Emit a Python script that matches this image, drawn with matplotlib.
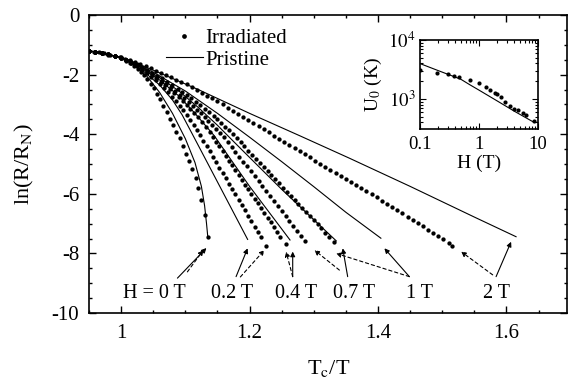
import numpy as np
import matplotlib
matplotlib.use("Agg")
import matplotlib.pyplot as plt
from matplotlib.ticker import MultipleLocator, LogLocator, NullFormatter, FixedLocator

plt.rcParams['font.family'] = ['Liberation Serif', 'DejaVu Serif']
plt.rcParams['mathtext.fontset'] = 'stix'
plt.rcParams['axes.unicode_minus'] = False

# irradiated data (dots): Tc/T and ln(R/RN)
x_irr_2 = [0.950, 0.958, 0.966, 0.974, 0.982, 0.990, 0.998, 1.006, 1.014, 1.022, 1.030, 1.038,
           1.046, 1.054, 1.062, 1.070, 1.078, 1.086, 1.094, 1.102, 1.110, 1.118, 1.126, 1.134,
           1.142, 1.150, 1.158, 1.166, 1.174, 1.182, 1.190, 1.198, 1.206, 1.214, 1.222, 1.230,
           1.238, 1.246, 1.254, 1.262, 1.270, 1.278, 1.286, 1.294, 1.302, 1.310, 1.318, 1.326,
           1.334, 1.342, 1.350, 1.358, 1.366, 1.374, 1.382, 1.390, 1.398, 1.406, 1.414, 1.422,
           1.430, 1.438, 1.446, 1.454, 1.462, 1.470, 1.478, 1.486, 1.494, 1.502, 1.510, 1.516]
y_irr_2 = [-1.20, -1.23, -1.255, -1.29, -1.33, -1.37, -1.41, -1.46, -1.52, -1.58, -1.65, -1.72,
           -1.79, -1.87, -1.94, -2.02, -2.09, -2.17, -2.24, -2.33, -2.42, -2.52, -2.61, -2.71,
           -2.80, -2.90, -3.00, -3.11, -3.21, -3.32, -3.42, -3.53, -3.63, -3.73, -3.84, -3.94,
           -4.05, -4.15, -4.25, -4.36, -4.46, -4.57, -4.67, -4.78, -4.89, -4.99, -5.09, -5.19,
           -5.30, -5.40, -5.50, -5.61, -5.71, -5.81, -5.92, -6.02, -6.12, -6.23, -6.34, -6.44,
           -6.55, -6.66, -6.77, -6.87, -6.98, -7.09, -7.20, -7.31, -7.42, -7.53, -7.64, -7.74]

x_irr_1 = [0.950, 0.960, 0.970, 0.980, 0.990, 1.000, 1.008, 1.016, 1.024, 1.032, 1.040, 1.048,
           1.056, 1.064, 1.072, 1.080, 1.088, 1.095, 1.102, 1.109, 1.116, 1.123, 1.130, 1.137,
           1.144, 1.150, 1.156, 1.162, 1.168, 1.174, 1.180, 1.186, 1.192, 1.198, 1.204, 1.210,
           1.216, 1.222, 1.228, 1.234, 1.240, 1.246, 1.252, 1.258, 1.264, 1.270, 1.276, 1.282,
           1.288, 1.294, 1.300, 1.306, 1.312, 1.318, 1.324, 1.332]
y_irr_1 = [-1.20, -1.235, -1.27, -1.32, -1.37, -1.42, -1.50, -1.58, -1.66, -1.74, -1.84, -1.93,
           -2.03, -2.13, -2.24, -2.36, -2.47, -2.58, -2.69, -2.80, -2.91, -3.03, -3.15, -3.27,
           -3.39, -3.50, -3.62, -3.75, -3.87, -4.00, -4.14, -4.27, -4.41, -4.55, -4.69, -4.83,
           -4.96, -5.10, -5.24, -5.37, -5.51, -5.65, -5.79, -5.93, -6.07, -6.20, -6.34, -6.48,
           -6.62, -6.75, -6.89, -7.03, -7.16, -7.30, -7.44, -7.62]

x_irr_07 = [0.950, 0.960, 0.970, 0.980, 0.990, 1.000, 1.008, 1.016, 1.024, 1.032, 1.040, 1.048,
            1.056, 1.063, 1.070, 1.077, 1.084, 1.091, 1.098, 1.105, 1.112, 1.118, 1.124, 1.130,
            1.136, 1.142, 1.148, 1.154, 1.160, 1.166, 1.172, 1.178, 1.184, 1.190, 1.196, 1.202,
            1.208, 1.214, 1.220, 1.226, 1.232, 1.238, 1.244, 1.250, 1.256, 1.262, 1.268, 1.274,
            1.280, 1.286]
y_irr_07 = [-1.20, -1.235, -1.275, -1.32, -1.37, -1.43, -1.51, -1.59, -1.68, -1.77, -1.87, -1.98,
            -2.09, -2.20, -2.31, -2.42, -2.54, -2.67, -2.80, -2.93, -3.06, -3.18, -3.30, -3.43,
            -3.56, -3.70, -3.83, -3.96, -4.10, -4.26, -4.42, -4.59, -4.75, -4.92, -5.08, -5.25,
            -5.41, -5.58, -5.74, -5.90, -6.06, -6.23, -6.40, -6.57, -6.74, -6.90, -7.07, -7.24,
            -7.41, -7.57]

x_irr_04 = [0.950, 0.960, 0.970, 0.980, 0.990, 1.000, 1.008, 1.016, 1.024, 1.032, 1.040, 1.048,
            1.055, 1.062, 1.069, 1.076, 1.083, 1.090, 1.096, 1.102, 1.108, 1.114, 1.120, 1.126,
            1.132, 1.138, 1.143, 1.148, 1.153, 1.158, 1.163, 1.168, 1.173, 1.178, 1.183, 1.188,
            1.193, 1.198, 1.203, 1.208, 1.213, 1.218, 1.223, 1.228, 1.233, 1.238, 1.243, 1.248,
            1.256]
y_irr_04 = [-1.20, -1.235, -1.275, -1.32, -1.375, -1.43, -1.51, -1.60, -1.69, -1.79, -1.90, -2.02,
            -2.13, -2.24, -2.36, -2.49, -2.62, -2.75, -2.88, -3.01, -3.14, -3.28, -3.43, -3.59,
            -3.76, -3.93, -4.09, -4.25, -4.41, -4.57, -4.73, -4.89, -5.05, -5.21, -5.37, -5.53,
            -5.69, -5.85, -6.01, -6.17, -6.32, -6.48, -6.64, -6.80, -6.96, -7.12, -7.28, -7.44,
            -7.68]

x_irr_02 = [0.950, 0.960, 0.970, 0.980, 0.990, 1.000, 1.008, 1.016, 1.024, 1.032, 1.040, 1.047,
            1.054, 1.061, 1.067, 1.073, 1.079, 1.085, 1.091, 1.097, 1.103, 1.108, 1.113, 1.118,
            1.123, 1.128, 1.133, 1.138, 1.143, 1.148, 1.153, 1.158, 1.163, 1.168, 1.173, 1.178,
            1.183, 1.188, 1.193, 1.198, 1.203, 1.208, 1.213, 1.218, 1.226]
y_irr_02 = [-1.20, -1.235, -1.275, -1.32, -1.375, -1.43, -1.52, -1.62, -1.72, -1.83, -1.95, -2.07,
            -2.19, -2.32, -2.45, -2.59, -2.74, -2.89, -3.04, -3.19, -3.35, -3.51, -3.68, -3.86,
            -4.04, -4.22, -4.40, -4.58, -4.76, -4.94, -5.12, -5.30, -5.48, -5.66, -5.84, -6.02,
            -6.20, -6.38, -6.56, -6.74, -6.92, -7.10, -7.28, -7.46, -7.75]

x_irr_0 = [0.950, 0.960, 0.970, 0.980, 0.990, 1.000, 1.007, 1.014, 1.020, 1.026, 1.031, 1.036,
           1.041, 1.046, 1.051, 1.056, 1.061, 1.066, 1.071, 1.076, 1.081, 1.086, 1.091, 1.096,
           1.101, 1.106, 1.111, 1.116, 1.120, 1.1245, 1.130, 1.136]
y_irr_0 = [-1.20, -1.235, -1.28, -1.33, -1.39, -1.45, -1.53, -1.62, -1.71, -1.81, -1.91, -2.02,
           -2.15, -2.30, -2.46, -2.64, -2.83, -3.04, -3.26, -3.48, -3.70, -3.91, -4.14, -4.40,
           -4.65, -4.90, -5.16, -5.47, -5.80, -6.20, -6.71, -7.46]

# pristine data (lines)
x_pr_0 = [0.95, 0.98, 1.00, 1.02, 1.04, 1.06, 1.08, 1.10, 1.115, 1.125, 1.130, 1.133, 1.135]
y_pr_0 = [-1.20, -1.32, -1.44, -1.68, -2.05, -2.60, -3.30, -4.15, -4.95, -5.75, -6.40, -7.00, -7.45]
x_pr_02 = [0.95, 1.00, 1.03, 1.06, 1.08, 1.095, 1.111, 1.15, 1.197]
y_pr_02 = [-1.20, -1.42, -1.80, -2.35, -2.85, -3.35, -4.00, -5.60, -7.53]
x_pr_04 = [0.95, 1.00, 1.03, 1.06, 1.09, 1.115, 1.145, 1.20, 1.263]
y_pr_04 = [-1.20, -1.43, -1.76, -2.18, -2.72, -3.30, -4.05, -5.75, -7.55]
x_pr_07 = [0.95, 1.00, 1.03, 1.06, 1.09, 1.12, 1.15, 1.18, 1.25, 1.335]
y_pr_07 = [-1.20, -1.42, -1.73, -2.10, -2.55, -3.10, -3.70, -4.35, -5.85, -7.58]
x_pr_1 = [0.95, 1.00, 1.05, 1.10, 1.15, 1.20, 1.25, 1.30, 1.35, 1.4045]
y_pr_1 = [-1.20, -1.42, -1.92, -2.55, -3.30, -4.10, -4.92, -5.76, -6.62, -7.49]
x_pr_2 = [0.95, 1.00, 1.05, 1.12, 1.20, 1.278, 1.355, 1.45, 1.55, 1.615]
y_pr_2 = [-1.20, -1.42, -1.85, -2.50, -3.30, -4.05, -4.80, -5.75, -6.78, -7.44]

# field labels and arrows (label text, position, solid arrow, dashed arrow)
field_labels = ['H = 0 T', '0.2 T', '0.4 T', '0.7 T', '1 T', '2 T']
label_x = [1.052, 1.173, 1.273, 1.363, 1.4645, 1.584]
label_y = -9.35
solid_arrows = [((1.0877, -8.83), (1.1328, -7.82)),
                ((1.179, -8.78), (1.197, -7.83)),
                ((1.2672, -8.78), (1.2672, -7.94)),
                ((1.3528, -8.78), (1.3451, -7.83)),
                ((1.4489, -8.78), (1.4100, -7.83)),
                ((1.5839, -8.78), (1.6073, -7.61))]
dashed_arrows = [((1.1032, -8.62), (1.128, -7.89)),
                 ((1.1857, -8.79), (1.2231, -7.89)),
                 ((1.2672, -8.78), (1.2569, -7.94)),
                 ((1.3399, -8.56), (1.301, -7.89)),
                 ((1.4489, -8.78), (1.3348, -8.00)),
                 ((1.5786, -8.72), (1.5294, -7.94))]

# inset: U0 vs H
H_irr = [0.1, 0.196, 0.295, 0.38, 0.46, 0.70, 1.0, 1.31, 1.53, 1.86, 2.04, 2.33, 2.74, 3.33,
         3.9, 4.6, 5.5, 6.25, 8.6]
U_irr = [3100, 2790, 2620, 2480, 2330, 2100, 1890, 1580, 1420, 1280, 1215, 1070, 900, 760,
         668, 650, 585, 535, 430]
H_pr = [0.1, 0.2, 0.4, 0.5, 0.7, 1.0, 2.0, 4.0, 8.3]
U_pr = [4000, 3060, 2350, 2150, 1750, 1420, 940, 620, 410]

fig = plt.figure(figsize=(5.68, 3.88), dpi=100)
ax = fig.add_axes([0.1567, 0.1933, 0.8423, 0.768])

ms = 3.1
for xs, ys in [(x_irr_0, y_irr_0), (x_irr_02, y_irr_02), (x_irr_04, y_irr_04),
               (x_irr_07, y_irr_07), (x_irr_1, y_irr_1), (x_irr_2, y_irr_2)]:
    ax.plot(xs, ys, 'o', color='black', ms=ms, mew=0, zorder=3)
for xs, ys in [(x_pr_0, y_pr_0), (x_pr_02, y_pr_02), (x_pr_04, y_pr_04),
               (x_pr_07, y_pr_07), (x_pr_1, y_pr_1), (x_pr_2, y_pr_2)]:
    ax.plot(xs, ys, '-', color='black', lw=0.8, zorder=2)

for txt, lx in zip(field_labels, label_x):
    ax.text(lx, label_y, txt, ha='center', va='center', fontsize=14.5)
for (start, tip) in solid_arrows:
    ax.annotate('', xy=tip, xytext=start,
                arrowprops=dict(arrowstyle='-|>', color='black', lw=0.8, mutation_scale=7,
                                shrinkA=0, shrinkB=0))
for (start, tip) in dashed_arrows:
    ax.annotate('', xy=tip, xytext=start,
                arrowprops=dict(arrowstyle='-|>', color='black', lw=0.8, mutation_scale=7,
                                linestyle=(0, (3, 2.5)), shrinkA=0, shrinkB=0))

# legend
h1, = ax.plot([], [], 'o', color='black', ms=3.4, mew=0)
h2, = ax.plot([], [], '-', color='black', lw=0.8)
ax.legend([h1, h2], ['Irradiated', 'Pristine'], loc='upper left',
          bbox_to_anchor=(0.16, 0.955), frameon=False, fontsize=15,
          handlelength=1.8, handletextpad=0.1, labelspacing=0.1,
          borderpad=0, borderaxespad=0)

ax.set_xlim(0.95, 1.695)
ax.set_ylim(-10, 0)
ax.set_xticks([1.0, 1.2, 1.4, 1.6])
ax.set_xticklabels(['1', '1.2', '1.4', '1.6'])
ax.set_yticks([-10, -8, -6, -4, -2, 0])
ax.xaxis.set_minor_locator(MultipleLocator(0.05))
ax.yaxis.set_minor_locator(MultipleLocator(0.5))
ax.tick_params(which='both', direction='in', top=True, right=True, labelsize=15, width=1.0)
ax.tick_params(which='major', length=5)
ax.tick_params(axis='x', which='major', pad=8)
ax.tick_params(axis='y', which='major', pad=7)
ax.tick_params(which='minor', length=2.5)
for s in ax.spines.values():
    s.set_linewidth(1.2)
ax.set_xlabel('T$_\\mathrm{c}$/T', fontsize=16, labelpad=11)
ax.set_ylabel('ln(R/R$_\\mathrm{N}$)', fontsize=16, labelpad=11)

# inset
axin = fig.add_axes([0.739, 0.6675, 0.208, 0.2294])
axin.plot(H_pr, U_pr, '-', color='black', lw=0.8)
axin.plot(H_irr, U_irr, 'o', color='black', ms=3.0, mew=0)
axin.set_xscale('log')
axin.set_yscale('log')
axin.set_xlim(0.1, 10)
axin.set_ylim(310, 1e4)
axin.xaxis.set_major_locator(FixedLocator([0.1, 1, 10]))
axin.set_xticklabels(['0.1', '1', '10'])
axin.yaxis.set_major_locator(FixedLocator([1e3, 1e4]))
axin.set_yticklabels(['$10^3$', '$10^4$'])
axin.xaxis.set_minor_locator(LogLocator(base=10, subs=np.arange(2, 10)))
axin.yaxis.set_minor_locator(LogLocator(base=10, subs=np.arange(2, 10)))
axin.xaxis.set_minor_formatter(NullFormatter())
axin.yaxis.set_minor_formatter(NullFormatter())
axin.tick_params(which='both', direction='in', top=True, right=True, labelsize=13.5, width=0.8)
axin.tick_params(axis='x', which='major', pad=5)
axin.tick_params(axis='y', which='major', pad=3)
axin.tick_params(which='major', length=4)
axin.tick_params(which='minor', length=2)
for s in axin.spines.values():
    s.set_linewidth(1.2)
axin.set_xlabel('H (T)', fontsize=14, labelpad=1)
axin.set_ylabel('U$_0$ (K)', fontsize=14, labelpad=3)

fig.savefig('out.png', dpi=100)
